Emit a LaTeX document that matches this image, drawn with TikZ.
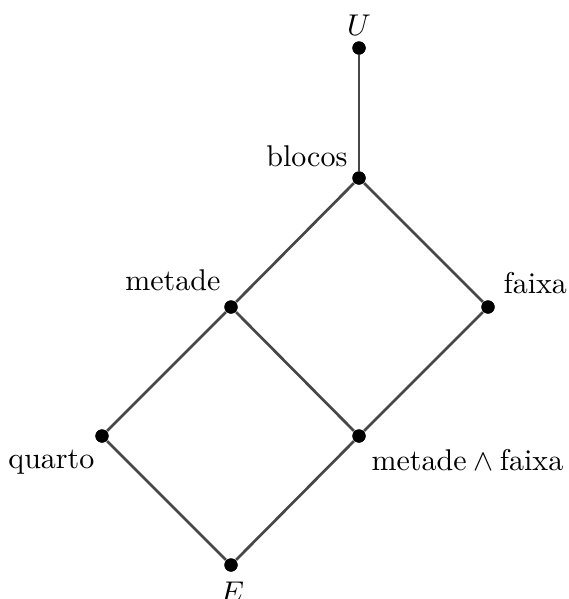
\documentclass[tikz,border=0pt]{standalone}
\begin{document}
\begin{tikzpicture}[x=0.3333pt,y=-0.3333pt,
  pt/.style={circle,fill=black,inner sep=0pt,minimum size=4.4pt},
  edge/.style={draw=black!72,line width=0.9pt},
  lab/.style={inner sep=0pt,font=\fontsize{10}{12}\selectfont}]
\useasboundingbox (0,0) rectangle (568,599);
% lattice elements
\node[pt] (U) at (359,48) {};
\node[pt] (B) at (359,178) {};
\node[pt] (M) at (231,307) {};
\node[pt] (F) at (488,307) {};
\node[pt] (Q) at (102,436) {};
\node[pt] (MF) at (359,436) {};
\node[pt] (E) at (231,565) {};
% order relations
\begin{scope}[on background layer/.try]
\draw[edge] (U) -- (B);
\draw[edge] (B) -- (M);
\draw[edge] (B) -- (F);
\draw[edge] (M) -- (Q);
\draw[edge] (M) -- (MF);
\draw[edge] (F) -- (MF);
\draw[edge] (Q) -- (E);
\draw[edge] (MF) -- (E);
\end{scope}
% redraw dots on top of the lines
\foreach \n in {U,B,M,F,Q,MF,E} \fill (\n) circle (2.2pt);
% labels
\node[lab,anchor=base] (lU) at (359,35) {$U$};
\node[lab,anchor=base east] (lB) at (348,166) {blocos};
\node[lab,anchor=base east] (lM) at (221,290) {metade};
\node[lab,anchor=base west] (lF) at (503,293) {faixa};
\node[lab,anchor=base east] (lQ) at (95,468) {quarto};
\node[lab,anchor=base west] (lMF) at (371,470) {$\mbox{metade}\wedge\mbox{faixa}$};
\node[lab,anchor=base] (lE) at (232,602) {$E$};
\end{tikzpicture}
\end{document}
